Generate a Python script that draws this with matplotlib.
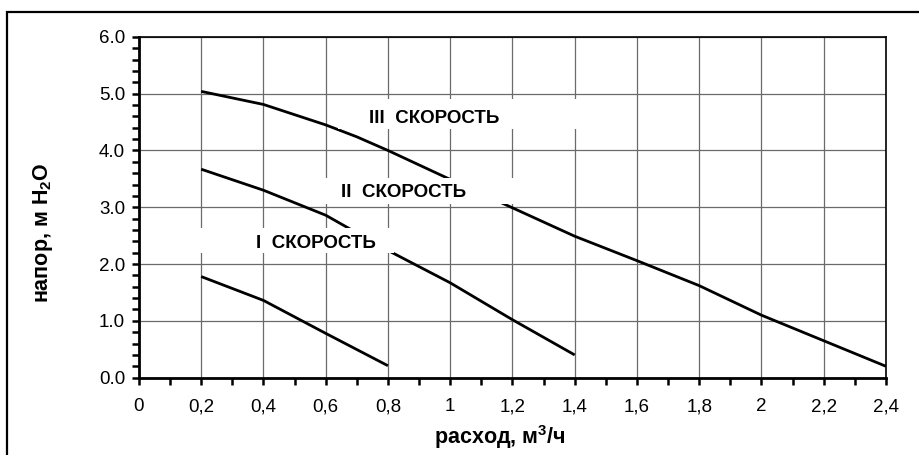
import matplotlib
matplotlib.use('Agg')
import matplotlib.pyplot as plt
from matplotlib.patches import Rectangle
from matplotlib.ticker import MultipleLocator

plt.rcParams['font.family'] = ['Liberation Sans', 'DejaVu Sans']
plt.rcParams['mathtext.fontset'] = 'custom'
plt.rcParams['mathtext.rm'] = 'Liberation Sans'
plt.rcParams['mathtext.bf'] = 'Liberation Sans:bold'

# характеристики насоса по скоростям
flow_1 = [0.2, 0.4, 0.5, 0.6, 0.8]
head_1 = [1.78, 1.36, 1.07, 0.78, 0.21]

flow_2 = [0.2, 0.4, 0.6, 0.8, 1.0, 1.2, 1.4]
head_2 = [3.67, 3.30, 2.86, 2.24, 1.67, 1.02, 0.40]

flow_3 = [0.2, 0.4, 0.6, 0.7, 0.8, 1.0, 1.2, 1.4, 1.6, 1.8, 2.0, 2.2, 2.4]
head_3 = [5.04, 4.81, 4.45, 4.24, 4.0, 3.49, 2.99, 2.49, 2.06, 1.62, 1.10, 0.65, 0.20]

x_ticks = [0, 0.2, 0.4, 0.6, 0.8, 1.0, 1.2, 1.4, 1.6, 1.8, 2.0, 2.2, 2.4]
x_labels = ['0', '0,2', '0,4', '0,6', '0,8', '1', '1,2', '1,4', '1,6', '1,8', '2', '2,2', '2,4']
y_ticks = [0, 1, 2, 3, 4, 5, 6]
y_labels = ['0.0', '1.0', '2.0', '3.0', '4.0', '5.0', '6.0']

# подписи: текст, центр (x, y), белая подложка (x0, x1, y0, y1)
speed_labels = [
    ('I  СКОРОСТЬ', 0.57, 2.37, (0.18, 0.82, 2.20, 2.63)),
    ('II  СКОРОСТЬ', 0.85, 3.26, (0.57, 1.27, 3.06, 3.52)),
    ('III  СКОРОСТЬ', 0.95, 4.57, (0.64, 1.42, 4.38, 4.90)),
]

fig = plt.figure(figsize=(9.2, 4.55), dpi=100)
ax = fig.add_axes([0.151, 0.170, 0.812, 0.749])

# внешняя рамка
fig.patches.append(Rectangle((0.0076, -0.05), 1.1, 0.9736 + 0.05, transform=fig.transFigure,
                             fill=False, ec='black', lw=1.6, zorder=0))

for fl, hd in [(flow_1, head_1), (flow_2, head_2), (flow_3, head_3)]:
    ax.plot(fl, hd, color='black', lw=2.0, zorder=3, solid_capstyle='butt')

for text, tx, ty, (x0, x1, y0, y1) in speed_labels:
    ax.add_patch(Rectangle((x0, y0), x1 - x0, y1 - y0, fc='white', ec='none', zorder=4))
    ax.text(tx, ty, text, ha='center', va='center', fontsize=13.5, fontweight='bold', zorder=5)

ax.set_xlim(0, 2.4)
ax.set_ylim(0, 6)
ax.set_xticks(x_ticks, x_labels, fontsize=13.5)
ax.set_yticks(y_ticks, y_labels, fontsize=13.5)
ax.xaxis.set_minor_locator(MultipleLocator(0.1))
ax.yaxis.set_minor_locator(MultipleLocator(0.2))

ax.grid(True, which='major', color='#6a6a6a', lw=0.9, zorder=1)
ax.tick_params(which='both', direction='out', length=5, width=1.8)
ax.tick_params(axis='x', which='both', pad=10)
ax.tick_params(axis='y', which='both', pad=5)

for side in ['left', 'bottom']:
    ax.spines[side].set_linewidth(2.0)
for side in ['top', 'right']:
    ax.spines[side].set_linewidth(1.2)

ax.set_xlabel('расход, м$^{\\mathbf{3}}$/ч', fontsize=15.5, fontweight='bold')
ax.set_ylabel('напор, м H$_{\\mathbf{2}}$O', fontsize=15.5, fontweight='bold')
ax.xaxis.set_label_coords(0.483, -0.133)
ax.yaxis.set_label_coords(-0.112, 0.425)
ax.xaxis.label.set_va('top')

fig.savefig('out.png', dpi=100)
